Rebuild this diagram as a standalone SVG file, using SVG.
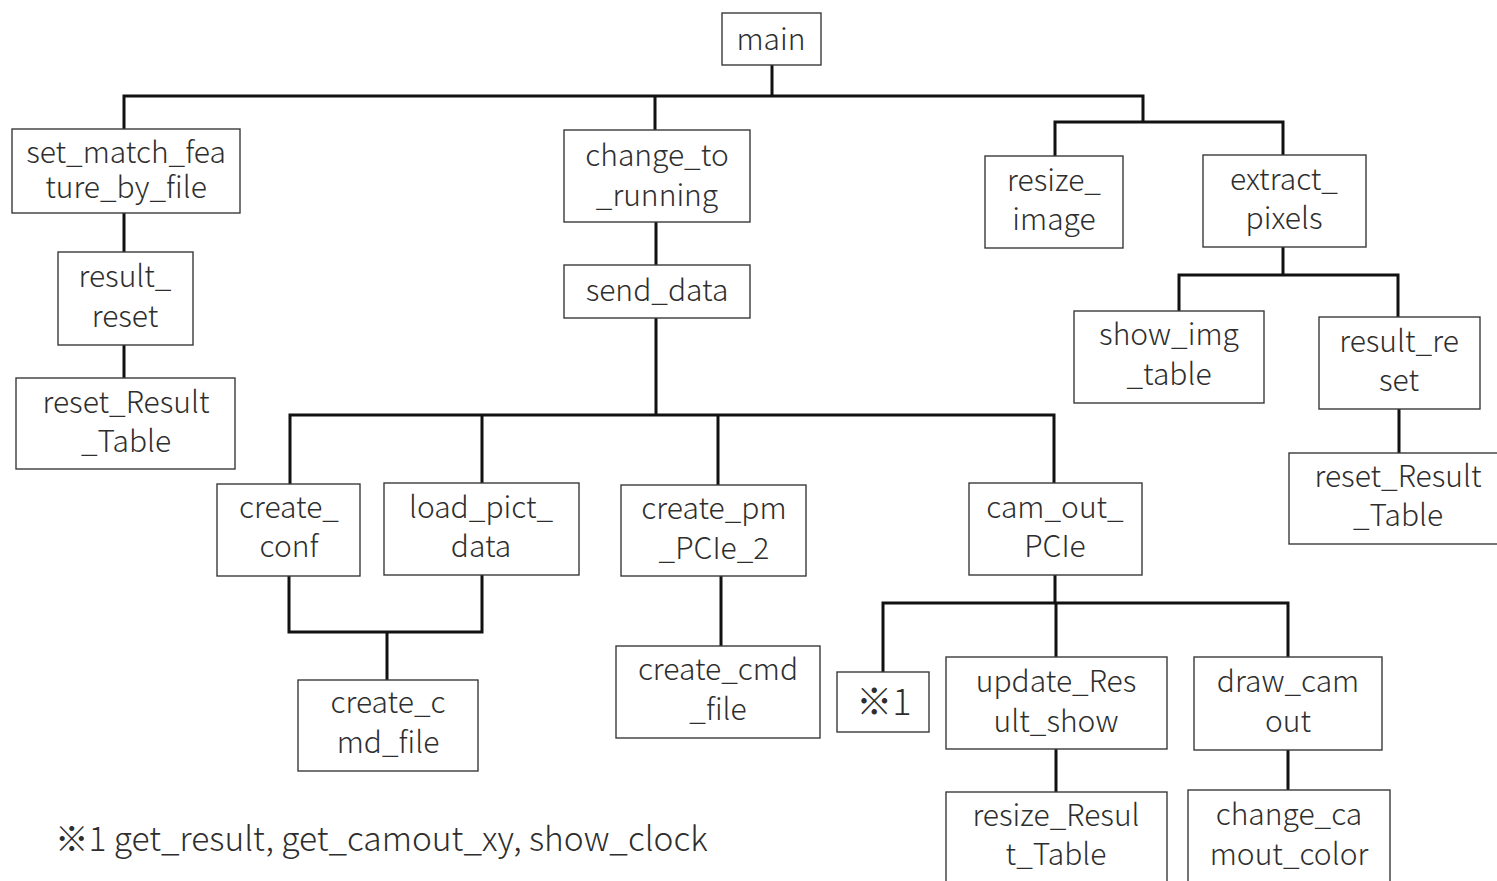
<svg xmlns="http://www.w3.org/2000/svg" width="1497" height="881" viewBox="0 0 1497 881">
  <style>
    .box { fill: #ffffff; stroke: #3a3a3a; stroke-width: 1.4; }
    .lbl { font-family: "Noto Sans CJK JP", "Noto Sans", sans-serif; font-size: 30px; font-weight: 300; fill: #2e2e2e; text-anchor: middle; }
    .mark { font-size: 36px; }
    .note { font-family: "Noto Sans CJK JP", "Noto Sans", sans-serif; font-size: 33.5px; font-weight: 300; fill: #2e2e2e; }
    .wire { fill: none; stroke: #111111; stroke-width: 3; stroke-linejoin: miter; stroke-linecap: square; }
  </style>
  <rect width="1497" height="881" fill="#ffffff"/>

  <!-- call-tree connectors -->
  <g id="connectors">
    <path class="wire" d="M772 65 V96 M124 96 H1143 M124 96 V129 M655 96 V130 M1143 96 V122 M1055 122 H1283 M1055 122 V156 M1283 122 V155"/>
    <path class="wire" d="M124 213 V252 M124 345 V378"/>
    <path class="wire" d="M656 222 V265 M656 318 V415 M290 415 H1054 M290 415 V484 M482 415 V483 M718 415 V485 M1054 415 V483"/>
    <path class="wire" d="M289 576 V632 H482 V575 M387 632 V680"/>
    <path class="wire" d="M721 576 V646"/>
    <path class="wire" d="M1055 575 V603 M883 603 H1288 M883 603 V672 M1056 603 V657 M1288 603 V657"/>
    <path class="wire" d="M1056 749 V792 M1288 750 V790"/>
    <path class="wire" d="M1283 247 V275 M1179 275 H1398 M1179 275 V311 M1398 275 V317 M1399 409 V453"/>
  </g>

  <g id="main">
    <rect class="box" x="722" y="13" width="99" height="52"/>
    <text class="lbl" x="771" y="50">main</text>
  </g>

  <g id="set_match_feature_by_file">
    <rect class="box" x="12" y="129" width="228" height="84"/>
    <text class="lbl" x="126" y="163">set_match_fea<tspan x="126" dy="35">ture_by_file</tspan></text>
  </g>
  <g id="result_reset_left">
    <rect class="box" x="58" y="252" width="135" height="93"/>
    <text class="lbl" x="125" y="287">result_<tspan x="125" dy="40">reset</tspan></text>
  </g>
  <g id="reset_Result_Table_left">
    <rect class="box" x="16" y="378" width="219" height="91"/>
    <text class="lbl" x="126" y="413">reset_Result<tspan x="126" dy="39">_Table</tspan></text>
  </g>

  <g id="change_to_running">
    <rect class="box" x="564" y="130" width="186" height="92"/>
    <text class="lbl" x="657" y="166">change_to<tspan x="657" dy="40">_running</tspan></text>
  </g>
  <g id="send_data">
    <rect class="box" x="564" y="265" width="186" height="53"/>
    <text class="lbl" x="657" y="301">send_data</text>
  </g>

  <g id="create_conf">
    <rect class="box" x="217" y="484" width="143" height="92"/>
    <text class="lbl" x="289" y="518">create_<tspan x="289" dy="39">conf</tspan></text>
  </g>
  <g id="load_pict_data">
    <rect class="box" x="384" y="483" width="195" height="92"/>
    <text class="lbl" x="481" y="518">load_pict_<tspan x="481" dy="39">data</tspan></text>
  </g>
  <g id="create_cmd_file_left">
    <rect class="box" x="298" y="680" width="180" height="91"/>
    <text class="lbl" x="388" y="713">create_c<tspan x="388" dy="40">md_file</tspan></text>
  </g>

  <g id="create_pm_PCIe_2">
    <rect class="box" x="621" y="485" width="185" height="91"/>
    <text class="lbl" x="714" y="519">create_pm<tspan x="714" dy="40">_PCIe_2</tspan></text>
  </g>
  <g id="create_cmd_file_right">
    <rect class="box" x="616" y="646" width="204" height="92"/>
    <text class="lbl" x="718" y="680">create_cmd<tspan x="718" dy="40">_file</tspan></text>
  </g>

  <g id="cam_out_PCIe">
    <rect class="box" x="969" y="483" width="173" height="92"/>
    <text class="lbl" x="1055" y="518">cam_out_<tspan x="1055" dy="39">PCIe</tspan></text>
  </g>
  <g id="note_1">
    <rect class="box" x="837" y="672" width="92" height="60"/>
    <text class="lbl mark" x="884" y="715">※1</text>
  </g>
  <g id="update_Result_show">
    <rect class="box" x="946" y="657" width="221" height="92"/>
    <text class="lbl" x="1056" y="692">update_Res<tspan x="1056" dy="40">ult_show</tspan></text>
  </g>
  <g id="resize_Result_Table">
    <rect class="box" x="946" y="792" width="221" height="95"/>
    <text class="lbl" x="1056" y="826">resize_Resul<tspan x="1056" dy="39">t_Table</tspan></text>
  </g>
  <g id="draw_camout">
    <rect class="box" x="1194" y="657" width="188" height="93"/>
    <text class="lbl" x="1288" y="692">draw_cam<tspan x="1288" dy="40">out</tspan></text>
  </g>
  <g id="change_camout_color">
    <rect class="box" x="1188" y="790" width="202" height="97"/>
    <text class="lbl" x="1289" y="825">change_ca<tspan x="1289" dy="40">mout_color</tspan></text>
  </g>

  <g id="resize_image">
    <rect class="box" x="985" y="156" width="138" height="92"/>
    <text class="lbl" x="1054" y="191">resize_<tspan x="1054" dy="39">image</tspan></text>
  </g>
  <g id="extract_pixels">
    <rect class="box" x="1203" y="155" width="163" height="92"/>
    <text class="lbl" x="1284" y="190">extract_<tspan x="1284" dy="39">pixels</tspan></text>
  </g>
  <g id="show_img_table">
    <rect class="box" x="1074" y="311" width="190" height="92"/>
    <text class="lbl" x="1169" y="345">show_img<tspan x="1169" dy="40">_table</tspan></text>
  </g>
  <g id="result_reset_right">
    <rect class="box" x="1319" y="317" width="161" height="92"/>
    <text class="lbl" x="1399" y="352">result_re<tspan x="1399" dy="39">set</tspan></text>
  </g>
  <g id="reset_Result_Table_right">
    <rect class="box" x="1289" y="453" width="215" height="91"/>
    <text class="lbl" x="1398" y="487">reset_Result<tspan x="1398" dy="39">_Table</tspan></text>
  </g>

  <g id="footnote">
    <text class="note" x="55" y="851">※1 get_result, get_camout_xy, show_clock</text>
  </g>
</svg>
